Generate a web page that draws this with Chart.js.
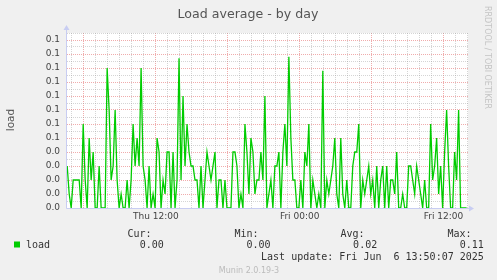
<!DOCTYPE html>
<html>
<head>
<meta charset="utf-8">
<script src="https://cdn.jsdelivr.net/npm/chart.js@4.4.1/dist/chart.umd.min.js"></script>
<style>
    html, body { margin: 0; padding: 0; background: #f0f0f0; }
    #wrap { width: 497px; height: 280px; }
</style>
</head>
<body>
<div id="wrap"><canvas id="loadChart" width="497" height="280"></canvas></div>
<script>
    // Load samples, one every 10 minutes
    const startMinute = 276;   // minutes after Thu 00:00
    const stepMinutes = 10;
    const load = [
        0.03, 0.01, 0, 0.02, 0.02, 0.02, 0.02, 0, 0.06, 0.02, 0, 0.05, 0.02, 0.04, 0, 0, 0.03, 0, 0, 0, 0.10, 0.07, 0.02, 0.03, 0.07, 0.02, 0, 0.01, 0,
        0, 0.02, 0, 0.02, 0.06, 0.03, 0.05, 0.03, 0.10, 0.03, 0.02, 0, 0.03, 0, 0.01, 0, 0.05, 0.04, 0, 0.02, 0.01, 0.04, 0.04, 0, 0.04, 0, 0.02, 0.107, 0.02,
        0.08, 0.03, 0.06, 0.04, 0.03, 0.03, 0.02, 0.02, 0, 0.03, 0, 0.02, 0.04, 0.03, 0.02, 0.03, 0.04, 0, 0.02, 0.02, 0, 0.02, 0, 0, 0, 0.04, 0.04, 0.03, 0,
        0.01, 0, 0.06, 0.04, 0.01, 0.05, 0.04, 0.01, 0.02, 0.02, 0.04, 0.02, 0.08, 0, 0.01, 0.02, 0, 0.03, 0.03, 0.04, 0, 0.04, 0.06, 0.03, 0.108, 0.05, 0.02, 0.02, 0,
        0, 0.02, 0, 0.04, 0.03, 0.06, 0, 0.02, 0.01, 0, 0.01, 0, 0.098, 0, 0.02, 0.01, 0.02, 0.03, 0.05, 0.01, 0, 0.05, 0.01, 0, 0.02, 0, 0, 0.03, 0.04,
        0.04, 0.06, 0, 0.02, 0.01, 0.02, 0.03, 0.01, 0.02, 0, 0.03, 0, 0.02, 0.03, 0, 0.03, 0, 0.02, 0.02, 0.01, 0.04, 0, 0, 0.01, 0, 0, 0.03, 0.03, 0.02,
        0.01, 0.03, 0.02, 0.01, 0, 0.02, 0, 0, 0.06, 0.02, 0.03, 0.05, 0.01, 0.03, 0, 0.04, 0.07, 0.03, 0, 0, 0.04, 0.02, 0.07, 0, 0, 0, 0
    ];

    const xMin = 275, xMax = 2283;
    const xMajorMinutes = [360, 720, 1080, 1440, 1800, 2160];
    const xLabelMinutes = [720, 1440, 2160];
    const xLabels = ['Thu 12:00', 'Fri 00:00', 'Fri 12:00'];
    const yMax = 0.125;
    const yTickValues = [0, 0.01, 0.02, 0.03, 0.04, 0.05, 0.06, 0.07, 0.08, 0.09, 0.10, 0.11, 0.12];
    const yTickLabels = ['0.0', '0.0', '0.0', '0.0', '0.0', '0.1', '0.1', '0.1', '0.1', '0.1', '0.1', '0.1', '0.1'];
    const legendHeads = ['Cur:', 'Min:', 'Avg:', 'Max:'];
    const legendValues = ['0.00', '0.00', '0.02', '0.11'];

    const lineGreen = '#00cc00';
    const minorGrid = 'rgba(150, 150, 150, 0.4)';
    const majorGrid = 'rgba(225, 90, 90, 0.5)';
    const axisColor = '#c8cdf2';

    function isMajorY(v) {
        return yTickValues.some(t => Math.abs(t - v) < 1e-6);
    }

    // Background, axes, arrows and all the munin texts
    const muninFrame = {
        id: 'muninFrame',
        beforeDraw(chart) {
            const { ctx, chartArea: a } = chart;
            ctx.save();
            ctx.fillStyle = '#f0f0f0';
            ctx.fillRect(0, 0, chart.width, chart.height);
            ctx.fillStyle = '#ffffff';
            ctx.fillRect(a.left, a.top, a.right - a.left, a.bottom - a.top);
            ctx.restore();
        },
        afterDraw(chart) {
            const { ctx, chartArea: a } = chart;
            ctx.save();

            // axes
            ctx.strokeStyle = axisColor;
            ctx.fillStyle = axisColor;
            ctx.lineWidth = 1;
            ctx.beginPath();
            ctx.moveTo(a.left - 0.5, a.bottom + 0.5);
            ctx.lineTo(a.left - 0.5, a.top - 4);
            ctx.moveTo(a.left - 0.5, a.bottom + 0.5);
            ctx.lineTo(a.right + 3, a.bottom + 0.5);
            ctx.stroke();
            ctx.beginPath();
            ctx.moveTo(a.left - 3.5, a.top - 3);
            ctx.lineTo(a.left + 2.5, a.top - 3);
            ctx.lineTo(a.left - 0.5, a.top - 8);
            ctx.closePath();
            ctx.fill();
            ctx.beginPath();
            ctx.moveTo(a.right + 1, a.bottom - 2.5);
            ctx.lineTo(a.right + 1, a.bottom + 3.5);
            ctx.lineTo(a.right + 6, a.bottom + 0.5);
            ctx.closePath();
            ctx.fill();

            // title
            ctx.fillStyle = '#555';
            ctx.font = '12.6px "DejaVu Sans"';
            ctx.textAlign = 'center';
            ctx.textBaseline = 'alphabetic';
            ctx.fillText('Load average - by day', 248, 17.5);

            // vertical axis title
            ctx.save();
            ctx.translate(14, 120);
            ctx.rotate(-Math.PI / 2);
            ctx.font = '10.5px "DejaVu Sans"';
            ctx.fillStyle = '#555';
            ctx.textAlign = 'center';
            ctx.fillText('load', 0, 0);
            ctx.restore();

            // rrdtool credit on the right
            ctx.save();
            ctx.translate(485, 6);
            ctx.rotate(Math.PI / 2);
            ctx.font = '8px "DejaVu Sans"';
            ctx.fillStyle = '#c4c4c4';
            ctx.textAlign = 'left';
            ctx.fillText('RRDTOOL / TOBI OETIKER', 0, 0);
            ctx.restore();

            // legend block
            ctx.font = '10px "DejaVu Sans Mono"';
            ctx.fillStyle = '#333';
            const headX = [127.5, 234.5, 340.5, 447.5];
            const valueRight = [163.8, 270.6, 377.2, 483.8];
            ctx.textAlign = 'left';
            legendHeads.forEach((h, i) => ctx.fillText(h, headX[i], 237));
            ctx.fillText('load', 26, 248.3);
            ctx.textAlign = 'right';
            legendValues.forEach((v, i) => ctx.fillText(v, valueRight[i], 248.3));
            ctx.fillText('Last update: Fri Jun  6 13:50:07 2025', 483.8, 259.5);
            ctx.fillStyle = lineGreen;
            ctx.fillRect(14, 241.5, 6, 6);

            ctx.font = '8px "DejaVu Sans"';
            ctx.fillStyle = '#bbbbbb';
            ctx.textAlign = 'center';
            ctx.fillText('Munin 2.0.19-3', 249, 272.5);

            ctx.restore();
        }
    };

    function renderLoadChart() {
        const ctx = document.getElementById('loadChart').getContext('2d');
        const points = load.map((v, i) => ({ x: startMinute + i * stepMinutes, y: v }));

        new Chart(ctx, {
            type: 'line',
            data: {
                datasets: [{
                    label: 'load',
                    data: points,
                    borderColor: lineGreen,
                    borderWidth: 1.3,
                    pointRadius: 0,
                    tension: 0,
                    fill: false
                }]
            },
            options: {
                responsive: false,
                animation: false,
                layout: { padding: { top: 33, right: 29, left: 0, bottom: 0 } },
                plugins: {
                    legend: { display: false },
                    title: { display: false },
                    tooltip: { enabled: false }
                },
                scales: {
                    x: {
                        type: 'linear',
                        min: xMin,
                        max: xMax,
                        afterBuildTicks: scale => {
                            const ticks = [];
                            for (let m = 300; m <= xMax; m += 60) ticks.push({ value: m });
                            scale.ticks = ticks;
                        },
                        afterFit: scale => { scale.height = 72; },
                        ticks: {
                            autoSkip: false,
                            maxRotation: 0,
                            padding: 3,
                            color: '#444',
                            font: { family: 'DejaVu Sans', size: 9 },
                            callback: value => {
                                const i = xLabelMinutes.indexOf(value);
                                return i >= 0 ? xLabels[i] : '';
                            }
                        },
                        grid: {
                            drawTicks: false,
                            lineWidth: 1,
                            color: c => xMajorMinutes.includes(c.tick.value) ? majorGrid : minorGrid
                        },
                        border: { display: false, dash: [1, 1] }
                    },
                    y: {
                        min: 0,
                        max: yMax,
                        afterBuildTicks: scale => {
                            const ticks = [];
                            for (let k = 0; k <= 25; k++) ticks.push({ value: k * 0.005 });
                            scale.ticks = ticks;
                        },
                        afterFit: scale => { scale.width = 67; },
                        ticks: {
                            autoSkip: false,
                            padding: 7,
                            color: '#444',
                            font: { family: 'DejaVu Sans', size: 9 },
                            callback: value => {
                                const i = yTickValues.findIndex(t => Math.abs(t - value) < 1e-6);
                                return i >= 0 ? yTickLabels[i] : '';
                            }
                        },
                        grid: {
                            drawTicks: false,
                            lineWidth: 1,
                            color: c => isMajorY(c.tick.value) ? majorGrid : minorGrid
                        },
                        border: { display: false, dash: [1, 1] }
                    }
                }
            },
            plugins: [muninFrame]
        });
    }

    document.addEventListener('DOMContentLoaded', renderLoadChart);
</script>
</body>
</html>
